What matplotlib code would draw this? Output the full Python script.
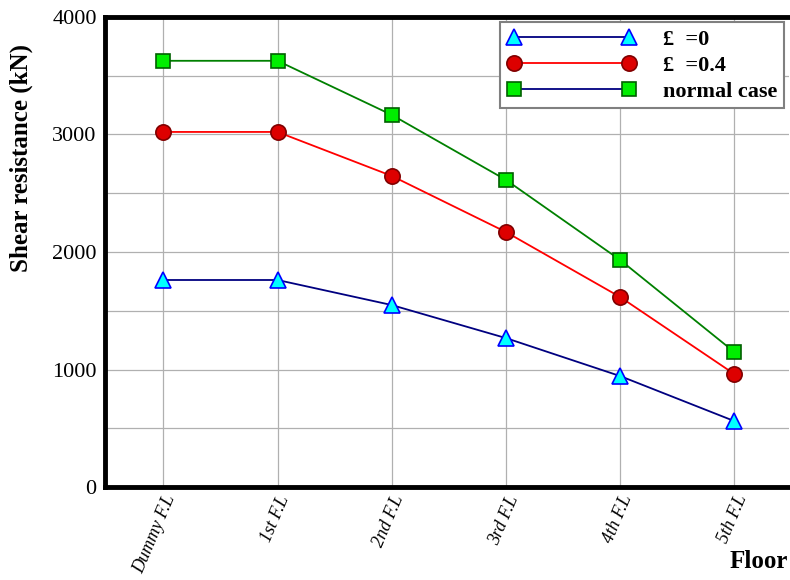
import matplotlib.pyplot as plt
from matplotlib.lines import Line2D

floors = ['Dummy F.L', '1st F.L', '2nd F.L', '3rd F.L', '4th F.L', '5th F.L']
xi_0 = [1762, 1762, 1549, 1268, 945, 562]
xi_04 = [3021, 3021, 2647, 2170, 1617, 962]
normal = [3626, 3626, 3166, 2613, 1932, 1149]
yticks = [0, 1000, 2000, 3000, 4000]
ytick_labels = ['0', '1000', '2000', '3000', '4000']

plt.rcParams['font.family'] = ['Liberation Serif', 'DejaVu Serif']

fig = plt.figure(figsize=(7.9, 5.8), dpi=100)
ax = fig.add_axes([0.133, 0.160, 0.866, 0.811])

x = list(range(len(floors)))
ax.plot(x, xi_0, '-', color='#000080', lw=1.3, marker='^', ms=11,
        mfc='#00ffff', mec='#0000ff', mew=1.2, zorder=3)
ax.plot(x, xi_04, '-', color='#ff0000', lw=1.3, marker='o', ms=11,
        mfc='#dd0000', mec='#800000', mew=1.2, zorder=3)
ax.plot(x, normal, '-', color='#008000', lw=1.3, marker='s', ms=10,
        mfc='#00ee00', mec='#006000', mew=1.2, zorder=3)

ax.set_xlim(-0.51, 5.48)
ax.set_ylim(0, 4000)
ax.set_yticks(yticks)
ax.set_yticklabels(ytick_labels, fontsize=16)
ax.set_yticks(range(500, 4000, 1000), minor=True)
ax.set_xticks(x)
ax.set_xticklabels(floors, rotation=67, ha='right', va='top', fontsize=13,
                   style='italic', rotation_mode='anchor')
ax.tick_params(axis='both', which='both', length=0, pad=6)
ax.tick_params(axis='x', pad=4)
ax.grid(True, which='both', color='#b0b0b0', lw=0.9)
ax.set_axisbelow(True)

for s in ['top', 'left', 'bottom']:
    ax.spines[s].set_linewidth(3.5)
    ax.spines[s].set_color('black')
ax.spines['right'].set_visible(False)

ax.set_ylabel('Shear resistance (kN)', fontsize=18, fontweight='bold')
ax.yaxis.set_label_coords(-0.105, 0.70)
fig.text(0.997, 0.012, 'Floor', ha='right', va='bottom', fontsize=18, fontweight='bold')

handles = [
    Line2D([], [], color='#000080', lw=1.3, marker='^', ms=11,
           mfc='#00ffff', mec='#0000ff', mew=1.2),
    Line2D([], [], color='#ff0000', lw=1.3, marker='o', ms=11,
           mfc='#dd0000', mec='#800000', mew=1.2),
    Line2D([], [], color='#000080', lw=1.3, marker='s', ms=10,
           mfc='#00ee00', mec='#006000', mew=1.2),
]
labels = ['£  =0', '£  =0.4', 'normal case']
leg = ax.legend(handles, labels, loc='upper right', bbox_to_anchor=(1.0, 1.0),
                fancybox=False, framealpha=1, edgecolor='#808080', numpoints=2,
                handlelength=5.8, handletextpad=1.2, prop={'weight': 'bold', 'size': 16},
                borderpad=0.3, labelspacing=0.25, borderaxespad=0.25)
leg.get_frame().set_linewidth(1.5)

fig.savefig('out.png', dpi=100)
